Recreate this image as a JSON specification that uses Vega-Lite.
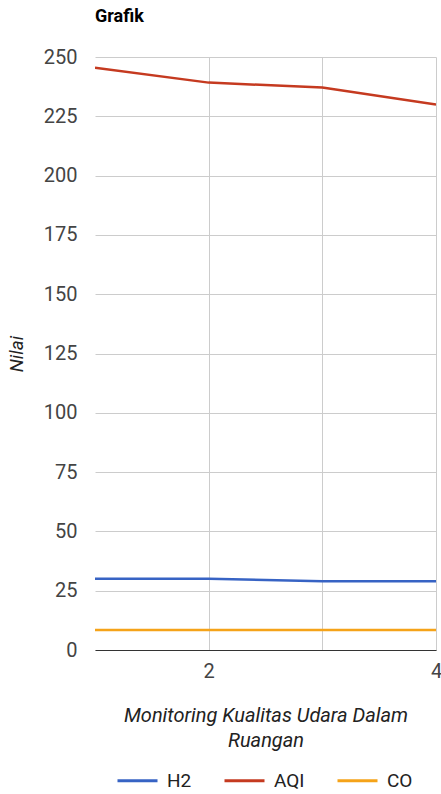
{
  "$schema": "https://vega.github.io/schema/vega-lite/v6.json",
  "autosize": {"type": "none"},
  "width": 341,
  "height": 593,
  "padding": {"left": 95, "top": 57, "right": 5, "bottom": 144},
  "background": "white",
  "title": {"text": "Grafik", "anchor": "start", "frame": "group", "font": "Roboto", "fontSize": 18, "fontWeight": "bold", "color": "#000000", "offset": 21},
  "data": {"values": [
    {"x": 1, "series": "H2", "value": 30},
    {"x": 2, "series": "H2", "value": 30},
    {"x": 3, "series": "H2", "value": 29},
    {"x": 4, "series": "H2", "value": 29},
    {"x": 1, "series": "AQI", "value": 245.5},
    {"x": 2, "series": "AQI", "value": 239.2},
    {"x": 3, "series": "AQI", "value": 237.1},
    {"x": 4, "series": "AQI", "value": 230},
    {"x": 1, "series": "CO", "value": 8.4},
    {"x": 2, "series": "CO", "value": 8.4},
    {"x": 3, "series": "CO", "value": 8.4},
    {"x": 4, "series": "CO", "value": 8.4}
  ]},
  "mark": {"type": "line", "strokeWidth": 2.5, "clip": true},
  "encoding": {
    "x": {"field": "x", "type": "quantitative", "scale": {"domain": [1, 4], "nice": false, "zero": false},
      "axis": {"values": [2, 3, 4], "labelExpr": "datum.value == 3 ? '' : datum.label", "grid": true, "gridColor": "#cccccc", "ticks": false, "domain": true, "domainColor": "#333333", "labelFont": "Roboto", "labelFontSize": 20, "labelColor": "#444444", "labelPadding": 11, "labelOverlap": false, "labelFlush": false,
        "title": ["Monitoring Kualitas Udara Dalam", "Ruangan"], "titleFont": "Roboto", "titleFontSize": 20, "titleFontStyle": "italic", "titleFontWeight": "normal", "titleColor": "#222222", "titlePadding": 24, "titleLineHeight": 25}},
    "y": {"field": "value", "type": "quantitative", "scale": {"domain": [0, 250], "nice": false},
      "axis": {"values": [0, 25, 50, 75, 100, 125, 150, 175, 200, 225, 250], "grid": true, "gridColor": "#cccccc", "ticks": false, "domain": false, "labelFont": "Roboto", "labelFontSize": 20, "labelColor": "#444444", "labelPadding": 18,
        "title": "Nilai", "titleFont": "Roboto", "titleFontSize": 19, "titleFontStyle": "italic", "titleFontWeight": "normal", "titleColor": "#222222", "titlePadding": 17}},
    "color": {"field": "series", "type": "nominal", "sort": ["H2", "AQI", "CO"],
      "scale": {"domain": ["H2", "AQI", "CO"], "range": ["#3763c4", "#c53a20", "#f5a319"]},
      "legend": {"title": null, "orient": "none", "direction": "horizontal", "legendX": 21, "legendY": 702, "symbolType": "stroke", "symbolSize": 1600, "symbolStrokeWidth": 3, "labelFont": "Roboto", "labelFontSize": 19, "labelColor": "#222222", "columnPadding": 26, "labelOffset": 8}}
  },
  "config": {"view": {"stroke": null}}
}
